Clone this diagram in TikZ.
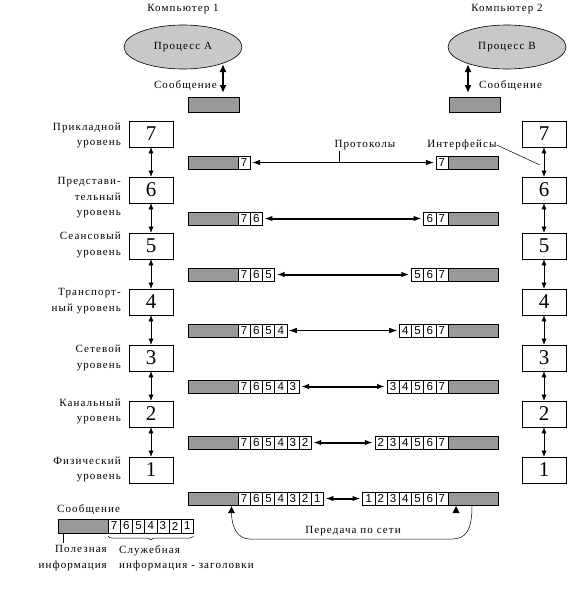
\documentclass[tikz,border=0pt]{standalone}
\usepackage{fontspec}
\setmainfont{Liberation Serif}[LetterSpace=10]
\newfontfamily\cellfont{Liberation Sans}
\newfontfamily\digitfont{Liberation Serif}
\usetikzlibrary{arrows.meta,decorations.pathreplacing,shapes.geometric}
\definecolor{bargrey}{RGB}{153,153,153}
\definecolor{ellgrey}{RGB}{200,200,200}
\begin{document}
\begin{tikzpicture}[x=1pt,y=-1pt,
  lab/.style={font=\fontsize{11}{15.5}\selectfont, inner sep=0pt},
  lvl/.style={draw, line width=0.7pt, minimum width=44pt, minimum height=26pt, inner sep=0pt, font=\digitfont\fontsize{21}{21}\selectfont},
  cell/.style={draw, line width=0.6pt, minimum width=12.2pt, minimum height=13pt, inner sep=0pt, outer sep=0pt, font=\cellfont\fontsize{11.5}{12}\selectfont},
  gbar/.style={draw, fill=bargrey, line width=0.6pt, minimum width=50pt, minimum height=13pt, inner sep=0pt, outer sep=0pt},
  proc/.style={ellipse, draw, fill=ellgrey, line width=0.6pt, minimum width=118pt, minimum height=44pt, inner sep=0pt, font=\fontsize{11}{13}\selectfont},
  darr/.style={{Latex[length=6pt,width=5pt]}-{Latex[length=6pt,width=5pt]}},
  rarr/.style={{Latex[length=8pt,width=5.5pt]}-{Latex[length=8pt,width=5.5pt]}},
  barr/.style={{Latex[length=8pt,width=7pt]}-{Latex[length=8pt,width=7pt]}},
  thin line/.style={line width=0.5pt}
]
\useasboundingbox (0,0) rectangle (574,608);

% computers and processes
\node[lab] (C1) at (183,9) {Компьютер 1};
\node[lab] (C2) at (507,9) {Компьютер 2};
\node[proc] (PA) at (183,47) {Процесс А};
\node[proc] (PB) at (507,47) {Процесс В};
\node[gbar, minimum width=51pt, minimum height=15pt] (MA) at (213.5,104.5) {};
\node[gbar, minimum width=51pt, minimum height=15pt] (MB) at (474.5,104.5) {};
\coordinate (aA) at (223,64);
\coordinate (aB) at (468,64);
\draw[barr, line width=2pt, shorten >=4pt] (aA) -- (aA |- MA.north);
\draw[barr, line width=2pt, shorten >=4pt] (aB) -- (aB |- MB.north);
\node[lab, anchor=east] (SA) at (217,86) {Сообщение};
\node[lab, anchor=west] (SB) at (479,86) {Сообщение};

% level boxes
\foreach \n/\k in {7/0,6/1,5/2,4/3,3/4,2/5,1/6} {
  \node[lvl] (L\n) at (151,134+56*\k) {\n};
  \node[lvl] (R\n) at (544,134+56*\k) {\n};
}
\foreach \a/\b in {7/6,6/5,5/4,4/3,3/2,2/1} {
  \draw[darr, thin line] (L\a.south) -- (L\b.north);
  \draw[darr, thin line] (R\a.south) -- (R\b.north);
}

% level labels
\node[lab, anchor=east, align=right] (T7) at (121,135.5) {Прикладной\\уровень};
\node[lab, anchor=east, align=right] (T6) at (121,198) {Представи-\\тельный\\уровень};
\node[lab, anchor=east, align=right] (T5) at (121,245) {Сеансовый\\уровень};
\node[lab, anchor=east, align=right] (T4) at (121,301) {Транспорт-\\ный уровень};
\node[lab, anchor=east, align=right] (T3) at (121,358) {Сетевой\\уровень};
\node[lab, anchor=east, align=right] (T2) at (121,411.5) {Канальный\\уровень};
\node[lab, anchor=east, align=right] (T1) at (121,469.5) {Физический\\уровень};

% message rows
\foreach \r/\w in {0/0.7,1/2,2/2,3/0.7,4/2,5/2,6/2} {
  \pgfmathsetmacro\yc{162.5+56*\r}
  \node[gbar] (lg\r) at (213,\yc) {};
  \foreach \i in {0,...,\r} {
    \pgfmathtruncatemacro\lab{7-\i}
    \pgfmathsetmacro\xc{238+12.2*\i+6.1}
    \node[cell] (lc\r-\i) at (\xc,\yc) {\lab};
  }
  \node[gbar] (rg\r) at (473.5,\yc) {};
  \foreach \j in {0,...,\r} {
    \pgfmathtruncatemacro\lab{7-\r+\j}
    \pgfmathsetmacro\xc{448-12.2*(\r+1)+12.2*\j+6.1}
    \node[cell] (rc\r-\j) at (\xc,\yc) {\lab};
  }
  \draw[rarr, line width=\w pt, shorten >=2pt, shorten <=2pt] (lc\r-\r.east) -- (rc\r-0.west);
}

% protocols / interfaces
\node[lab] (PR) at (365,145) {Протоколы};
\coordinate (prt) at (339,151);
\draw[thin line] (prt) -- (prt |- lc0-0.east);
\node[lab] (IF) at (462,145) {Интерфейсы};
\coordinate (ifend) at (540,165);
\draw[thin line] (IF.east) -- (ifend);

% network transfer
\coordinate (nR) at (472,506);
\coordinate (nL) at (231.5,506);
\draw[thin line, -{Latex[length=7pt,width=7pt]}] (nR) .. controls (472,530) and (466,539) .. (452,539) -- (250,539) .. controls (238,539) and (231.5,528) .. (nL);
\fill (456,506) -- (452.5,513) -- (459.5,513) -- cycle;
\node[lab] (NET) at (353,531) {Передача по сети};

% legend
\node[lab, anchor=west] (SL) at (57,510) {Сообщение};
\node[gbar, minimum height=14pt] (LG) at (83,526) {};
\foreach \i in {0,...,6} {
  \pgfmathtruncatemacro\lab{7-\i}
  \pgfmathsetmacro\xc{108+12.2*\i+6.1}
  \node[cell, minimum height=14pt] (lm\i) at (\xc,526) {\lab};
}
\coordinate (pl) at (63,543);
\draw[thin line] (LG.south -| pl) -- (pl);
\draw[thin line, decorate, decoration={brace, amplitude=4pt, mirror}] ([yshift=-3pt]lm0.south west) -- ([yshift=-3pt]lm6.south east);
\node[lab, anchor=east, align=right] (PI) at (107,558) {Полезная\\информация};
\node[lab, anchor=west, align=left] (SI) at (119,558) {Служебная\\информация - заголовки};
\end{tikzpicture}
\end{document}
